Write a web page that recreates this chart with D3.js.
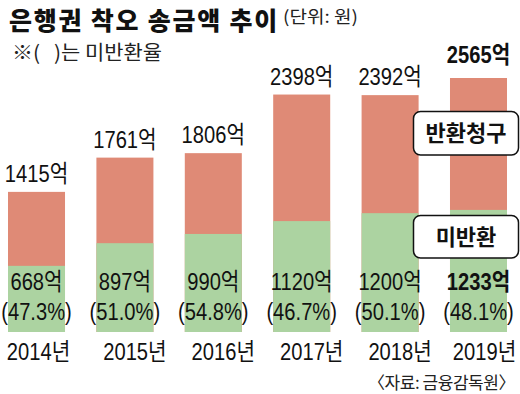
<!DOCTYPE html>
<html><head><meta charset="utf-8">
<script src="https://cdn.jsdelivr.net/npm/d3@7"></script>
<style>
html,body{margin:0;padding:0;background:#fff;}
svg{display:block;}
</style></head>
<body>
<svg id="c" width="520" height="394"></svg>
<script>
const years = ["2014년","2015년","2016년","2017년","2018년","2019년"];
const totals = [1415, 1761, 1806, 2398, 2392, 2565];
const unreturned = [668, 897, 990, 1120, 1200, 1233];
const rates = ["47.3%","51.0%","54.8%","46.7%","50.1%","48.1%"];
const legendLabels = ["반환청구","미반환"];

const RED = "#df8a76", GREEN = "#acd3a1";
const KFONT = "'Noto Sans CJK KR', sans-serif";
const NFONT = "'Liberation Sans', 'Noto Sans CJK KR', sans-serif";
const SX = 0.84;

const svg = d3.select("#c");
const x = d3.scaleBand().domain(years).range([8, 507]).paddingInner(0.355).paddingOuter(0);
const y = d3.scaleLinear().domain([0, d3.max(totals)]).range([332, 78]);

const data = years.map((yr,i)=>({yr, total: totals[i], un: unreturned[i], rate: rates[i], i}));

// text stretched to a target width by horizontal scaling
function fitText(tx, ty, txt, size, weight, width, fill){
  const t = svg.append("text").attr("font-family", KFONT).attr("font-size", size)
    .attr("font-weight", weight).attr("fill", fill).text(txt);
  const w = t.node().getComputedTextLength() || width;
  t.attr("transform", `translate(${tx},${ty}) scale(${width / w},1)`);
  return t;
}
// text tightened to a target width by letter-spacing, then size if needed
function tightText(tx, ty, txt, size, weight, width, fill){
  const t = svg.append("text").attr("x", tx).attr("y", ty).attr("font-family", KFONT)
    .attr("font-size", size).attr("font-weight", weight).attr("fill", fill).text(txt);
  const w = t.node().getComputedTextLength() || width;
  const n = txt.length;
  let ls = (width - w) / n;
  const minLs = -size * 0.06;
  if (ls < minLs) {
    t.attr("letter-spacing", minLs);
    const w2 = t.node().getComputedTextLength() || width;
    t.attr("font-size", size * width / w2);
    t.attr("letter-spacing", minLs * width / w2);
  } else {
    t.attr("letter-spacing", ls);
  }
  return t;
}
const title = tightText(9, 27, "은행권 착오 송금액 추이", 25, 900, 270, "#111");
// keep the title's box inside the picture
const tb = title.node().getBBox();
if (tb.y < 0.5) title.attr("y", 27 + (0.5 - tb.y));
fitText(283, 23, "(단위: 원)", 17, "normal", 75, "#222");
fitText(12, 60, "※(\u00A0\u00A0\u00A0)는 미반환율", 20, "normal", 150, "#222");

// bars
const g = svg.append("g");
g.selectAll("rect.tot").data(data).join("rect").attr("class","tot")
  .attr("x", d=>x(d.yr)).attr("width", x.bandwidth())
  .attr("y", d=>y(d.total)).attr("height", d=>y(0)-y(d.total)).attr("fill", RED);
g.selectAll("rect.un").data(data).join("rect").attr("class","un")
  .attr("x", d=>x(d.yr)).attr("width", x.bandwidth())
  .attr("y", d=>y(d.un)).attr("height", d=>y(0)-y(d.un)).attr("fill", GREEN);

function ntext(sel, cx, cy, txt, bold, size){
  sel.append("text")
    .attr("transform", `translate(${cx},${cy}) scale(${SX},1)`)
    .attr("text-anchor","middle")
    .attr("font-family", NFONT).attr("font-size", size||24)
    .attr("font-weight", bold ? "bold" : "normal")
    .attr("fill", "#111").text(txt);
}
const last = data.length-1;
data.forEach(d=>{
  const cx = x(d.yr) + x.bandwidth()/2;
  ntext(svg, cx, y(d.total) - (d.i===last ? 15 : 10), d.total + "억", d.i===last);
  ntext(svg, cx, 290, d.un + "억", d.i===last);
  ntext(svg, cx, 320, "(" + d.rate + ")", false);
  ntext(svg, cx + (d.i===0 ? 2 : (d.i===last ? 6 : 10)), 360, d.yr, false);
});

// legend boxes
const lg = [{t: legendLabels[0], y0: 111.5, h: 43.5}, {t: legendLabels[1], y0: 215.5, h: 42.5}];
lg.forEach(b=>{
  svg.append("rect").attr("x", 413.5).attr("y", b.y0).attr("width", 105).attr("height", b.h)
    .attr("rx", 7).attr("fill", "#fff").attr("stroke", "#111").attr("stroke-width", 1.5);
  svg.append("text").attr("x", 466).attr("y", b.y0 + b.h/2).attr("dy", "0.36em")
    .attr("text-anchor","middle").attr("font-family", KFONT).attr("font-weight","bold")
    .attr("font-size", 22).attr("fill","#111").text(b.t);
});

// source
tightText(368, 389, "〈자료: 금융감독원〉", 17, "normal", 147, "#222");
</script>
</body></html>
